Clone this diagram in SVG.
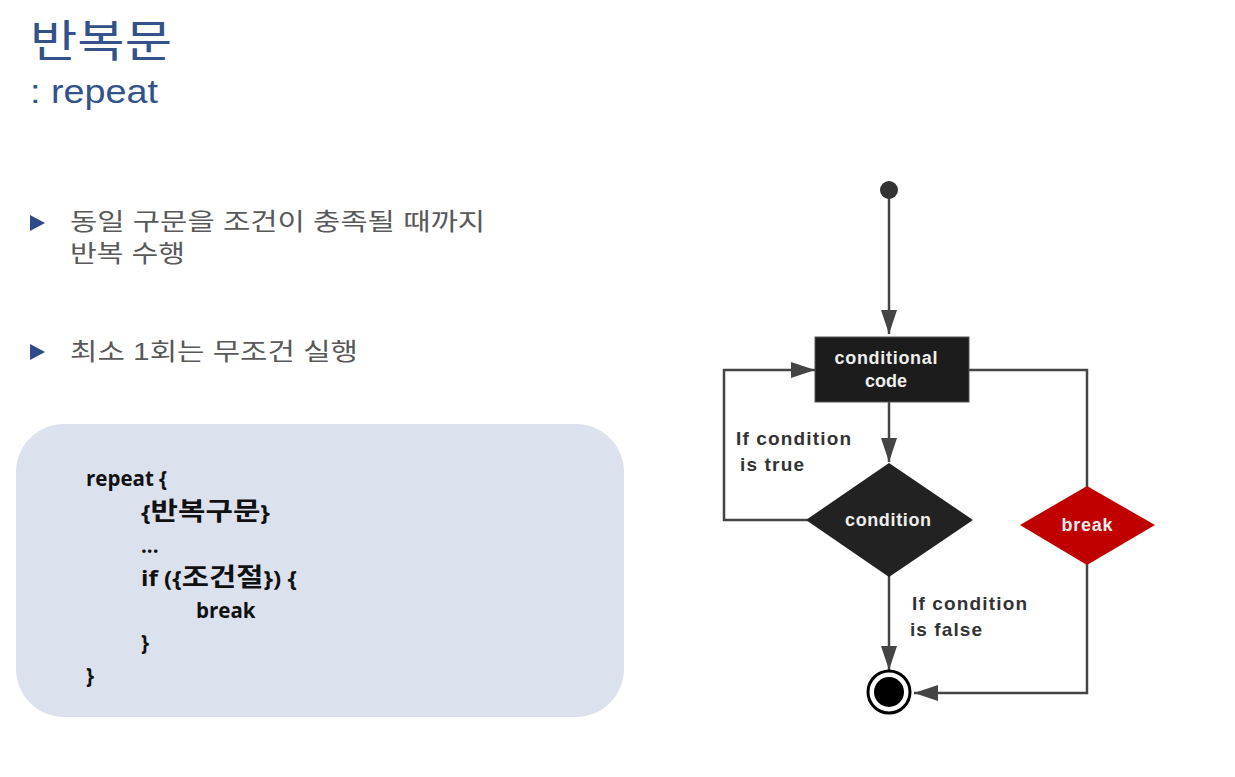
<svg xmlns="http://www.w3.org/2000/svg" width="1235" height="777" viewBox="0 0 1235 777">
<defs>
<style>
.title{font-family:"Noto Sans CJK KR","Noto Sans",sans-serif;fill:#33528A}
.sub{font-family:"Liberation Sans","Noto Sans",sans-serif;fill:#33528A}
.bul{font-family:"Liberation Sans","Noto Sans CJK KR",sans-serif;font-size:24px;fill:#595959}
.code{font-family:"Open Sans","Noto Sans CJK KR",sans-serif;font-weight:bold;font-size:20.5px;fill:#111}
.ko{font-size:25px}
.ln{fill:none;stroke:#444;stroke-width:2.5}
.lbl{font-family:"Liberation Sans",Arial,sans-serif;font-weight:bold;font-size:19px;fill:#333}
.wt{font-family:"Liberation Sans",Arial,sans-serif;font-weight:bold;font-size:18px;fill:#eee;text-anchor:middle}
</style>
<marker id="ahl" markerWidth="24" markerHeight="16" viewBox="0 0 24 16" refX="24" refY="8" orient="auto" markerUnits="userSpaceOnUse">
<path d="M0,0 L24,8 L0,16 Z" fill="#444"/>
</marker>
</defs>
<rect width="1235" height="777" fill="#fff"/>
<g id="title">
<text class="title" x="30" y="57" font-size="44" textLength="142" lengthAdjust="spacingAndGlyphs">반복문</text>
<text class="sub" x="30" y="103" font-size="34" textLength="128" lengthAdjust="spacingAndGlyphs">: repeat</text>
</g>
<g id="bullets">
<path d="M30,215 L45,223 L30,231 Z" fill="#2E4A87"/>
<text class="bul" x="70" y="230" textLength="415" lengthAdjust="spacingAndGlyphs">동일 구문을 조건이 충족될 때까지</text>
<text class="bul" x="70" y="262" textLength="115" lengthAdjust="spacingAndGlyphs">반복 수행</text>
<path d="M30,344 L45,352 L30,360 Z" fill="#2E4A87"/>
<text class="bul" x="70" y="360" textLength="288" lengthAdjust="spacingAndGlyphs">최소 1회는 무조건 실행</text>
</g>
<g id="codebox">
<rect x="16" y="424" width="608" height="293" rx="48" fill="#DCE1EE"/>
<text class="code" x="86" y="486">repeat {</text>
<text class="code" x="141" y="520" textLength="129" lengthAdjust="spacingAndGlyphs">{<tspan class="ko">반복구문</tspan>}</text>
<text class="code" x="141" y="553">...</text>
<text class="code" x="141" y="586" textLength="156" lengthAdjust="spacingAndGlyphs">if ({<tspan class="ko">조건절</tspan>}) {</text>
<text class="code" x="196" y="618">break</text>
<text class="code" x="141" y="650">}</text>
<text class="code" x="86" y="683">}</text>
</g>
<g id="connectors">
<path class="ln" d="M889,198 L889,334" marker-end="url(#ahl)"/>
<path class="ln" d="M889,402 L889,462" marker-end="url(#ahl)"/>
<path class="ln" d="M808,520 L724,520 L724,370 L815,370" marker-end="url(#ahl)"/>
<path class="ln" d="M969,370 L1087,370 L1087,487"/>
<path class="ln" d="M889,576 L889,670" marker-end="url(#ahl)"/>
<path class="ln" d="M1087,564 L1087,693 L914,693" marker-end="url(#ahl)"/>
</g>
<g id="start"><circle cx="889" cy="190" r="9" fill="#333"/></g>
<g id="code-node">
<rect x="815" y="337" width="154" height="65" fill="#1c1c1c" stroke="#555" stroke-width="1"/>
<text class="wt" x="886" y="364" textLength="103">conditional</text>
<text class="wt" x="886" y="387">code</text>
</g>
<g id="condition">
<path d="M889,463 L973,520 L889,577 L806,520 Z" fill="#222"/>
<text class="wt" x="888" y="526" textLength="86">condition</text>
</g>
<g id="break">
<path d="M1087,486 L1155,525 L1087,565 L1020,525 Z" fill="#C00000"/>
<text class="wt" x="1087" y="531" textLength="51">break</text>
</g>
<g id="end">
<circle cx="889" cy="692" r="21" fill="#fff" stroke="#000" stroke-width="3"/>
<circle cx="889" cy="692" r="15" fill="#000"/>
</g>
<g id="labels">
<text class="lbl" x="736" y="445" textLength="115">If condition</text>
<text class="lbl" x="740" y="471" textLength="64">is true</text>
<text class="lbl" x="912" y="610" textLength="115">If condition</text>
<text class="lbl" x="910" y="636" textLength="72">is false</text>
</g>
</svg>
